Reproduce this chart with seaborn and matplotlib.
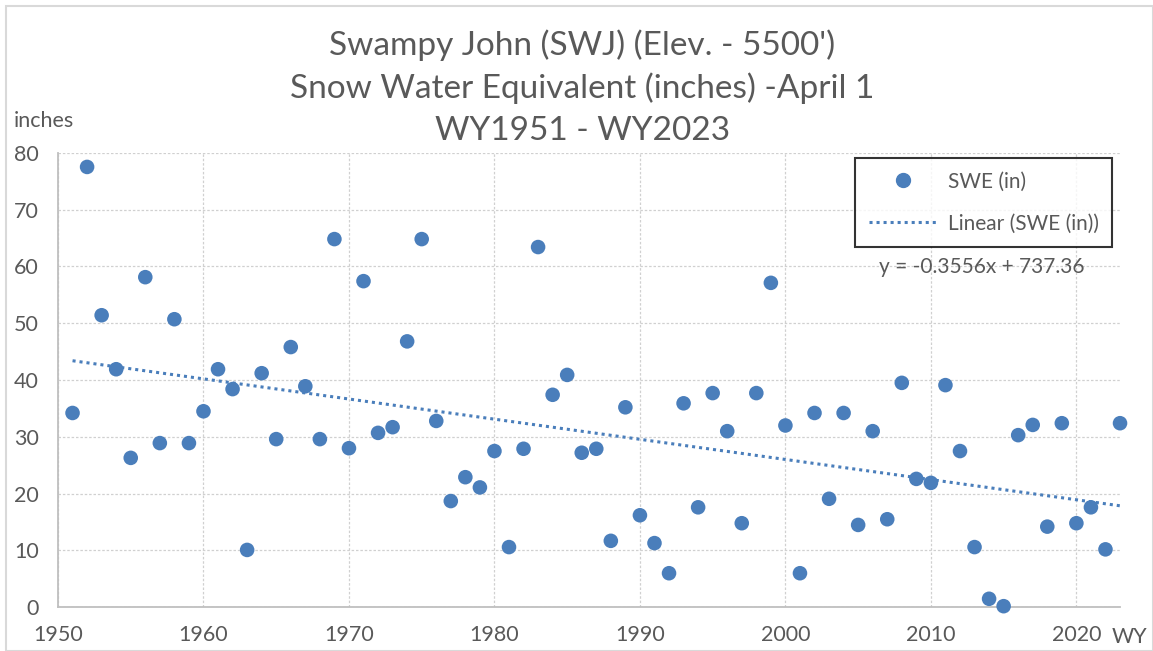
import numpy as np
import pandas as pd
import matplotlib
matplotlib.use("Agg")
import matplotlib.pyplot as plt
import seaborn as sns
from matplotlib.patches import Rectangle
from matplotlib.lines import Line2D

# данные: год и SWE на 1 апреля
years = list(range(1951, 2024))
swe = [34.2, 77.5, 51.4, 41.9, 26.3, 58.1, 28.9, 50.7, 28.9, 34.5,
       41.9, 38.4, 10.1, 41.2, 29.6, 45.8, 38.9, 29.6, 64.8, 28.0,
       57.4, 30.7, 31.7, 46.8, 64.8, 32.8, 18.7, 22.9, 21.1, 27.5,
       10.6, 27.9, 63.4, 37.4, 40.9, 27.2, 27.9, 11.7, 35.2, 16.2,
       11.3, 6.0, 35.9, 17.6, 37.7, 31.0, 14.8, 37.7, 57.1, 32.0,
       6.0, 34.2, 19.1, 34.2, 14.5, 31.0, 15.5, 39.5, 22.6, 21.9,
       39.1, 27.5, 10.6, 1.5, 0.2, 30.3, 32.1, 14.2, 32.4, 14.8,
       17.6, 10.2, 32.4]
x_ticks = [1950, 1960, 1970, 1980, 1990, 2000, 2010, 2020]
y_ticks = [0, 10, 20, 30, 40, 50, 60, 70, 80]
title_lines = ["Swampy John (SWJ) (Elev. - 5500')",
               "Snow Water Equivalent (inches) -April 1",
               "WY1951 - WY2023"]
eq_text = "y = -0.3556x + 737.36"

df = pd.DataFrame({"WY": years, "SWE (in)": swe})

sns.set_style("white")
plt.rcParams['font.family'] = ['Lato', 'DejaVu Sans']

blue = '#4a7ebb'
grey_txt = '#595959'
dots = (0, (1, 1.3))

fig = plt.figure(figsize=(11.53, 6.51), dpi=100)
ax = fig.add_axes([0.0503, 0.0671, 0.9211, 0.6983])

sns.regplot(x="WY", y="SWE (in)", data=df, ax=ax, scatter=False, ci=None,
            color=blue, line_kws={'linestyle': dots, 'linewidth': 2.2})
sns.scatterplot(x="WY", y="SWE (in)", data=df, ax=ax, color=blue, s=110,
                edgecolor='none', zorder=3, clip_on=False)

ax.set_xlim(1950, 2023)
ax.set_ylim(0, 80)
ax.set_xticks(x_ticks)
ax.set_yticks(y_ticks)
ax.set_xlabel("")
ax.set_ylabel("")
ax.grid(True, color='#d0d0d0', linestyle=(0, (2, 1.5)), linewidth=0.9)
ax.set_axisbelow(True)
for s in ['top', 'right']:
    ax.spines[s].set_visible(False)
for s in ['left', 'bottom']:
    ax.spines[s].set_color('#bfbfbf')
    ax.spines[s].set_linewidth(1.3)
ax.tick_params(axis='both', length=0, labelsize=15.5, labelcolor=grey_txt)
ax.tick_params(axis='x', pad=13)
ax.tick_params(axis='y', pad=14)

# заголовок
for i, t in enumerate(title_lines):
    fig.text(0.505, 1 - (45 + 43 * i) / 651, t, ha='center', va='center',
             fontsize=24, color=grey_txt)

fig.text(14 / 1153, 1 - 121 / 651, "inches", fontsize=15.5, color=grey_txt, va='center')
fig.text(1112 / 1153, 1 - 637 / 651, "WY", fontsize=15.5, color=grey_txt, va='center')

# легенда
handles = [Line2D([], [], marker='o', linestyle='none', color=blue, markersize=10),
           Line2D([], [], linestyle=dots, color=blue, linewidth=2.2)]
leg = ax.legend(handles, ["SWE (in)", "Linear (SWE (in))"], loc='upper left',
                bbox_to_anchor=(855 / 1153, 1 - 158 / 651), bbox_transform=fig.transFigure,
                borderaxespad=0, frameon=True, fancybox=False, fontsize=15,
                labelcolor=grey_txt, handlelength=3.3, borderpad=0.65,
                labelspacing=1.05, handletextpad=0.5)
leg.get_frame().set_edgecolor('black')
leg.get_frame().set_linewidth(1.5)

ax.text(982 / 1153, 1 - 267 / 651, eq_text, transform=fig.transFigure,
        ha='center', va='center', fontsize=15, color=grey_txt)

# рамка диаграммы
fig.patches.append(Rectangle((6 / 1153, 0), 1 - 6 / 1153, 1 - 6 / 651,
                             transform=fig.transFigure, fill=False,
                             edgecolor='#d9d9d9', linewidth=1.5))

fig.savefig("out.png", dpi=100)
